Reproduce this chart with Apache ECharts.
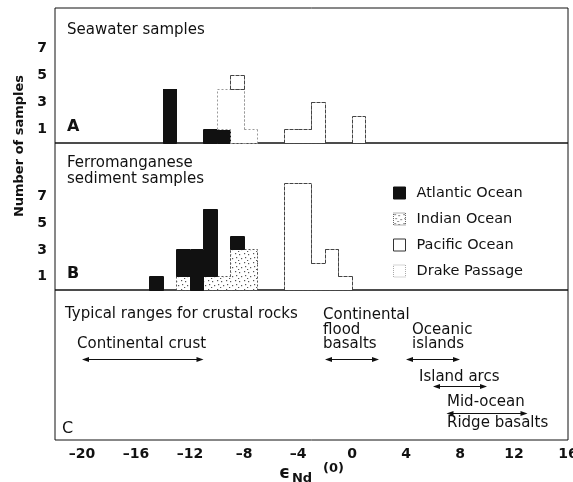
<!DOCTYPE html>
<html>
<head>
<meta charset="utf-8">
<script src="https://cdn.jsdelivr.net/npm/echarts@6/dist/echarts.min.js"></script>
<style>
  html, body { margin: 0; padding: 0; background: #fff; }
  #chart { width: 573px; height: 482px; }
</style>
</head>
<body>
<div id="chart"></div>
<script>
// ---- Data: εNd(0) histograms, each entry = [lower edge of 1-unit bin, number of samples] ----
const seawaterAtlantic = [[-14, 4], [-11, 1], [-10, 1]];
const seawaterIndian   = [];
const seawaterPacific  = [[-9, 1], [-5, 1], [-4, 1], [-3, 3], [0, 2]];
const seawaterDrake    = [[-10, 3], [-9, 4], [-8, 1]];

const sedimentAtlantic = [[-15, 1], [-13, 2], [-12, 3], [-11, 5], [-9, 1]];
const sedimentIndian   = [[-13, 1], [-11, 1], [-10, 1], [-9, 3], [-8, 3]];
const sedimentPacific  = [[-5, 8], [-4, 8], [-3, 2], [-2, 3], [-1, 1]];
const sedimentDrake    = [];

const oceanNames = ['Atlantic Ocean', 'Indian Ocean', 'Pacific Ocean', 'Drake Passage'];
const xTickValues = [-20, -16, -12, -8, -4, 0, 4, 8, 12, 16];
const yTickValues = [1, 3, 5, 7];

// Typical εNd(0) ranges for crustal rocks
const rockNames = ['Continental crust', 'Continental flood basalts', 'Oceanic islands', 'Island arcs', 'Mid-ocean ridge basalts'];
const rockFrom  = [-20, -2, 4, 6, 7];
const rockTo    = [-11, 2, 8, 10, 13];

// ---- Layout / style ----
const FONT = 'DejaVu Sans';
const INK = '#111';
const X_MIN = -22, X_MAX = 16;
const rockRowY = [69, 69, 69, 96, 123];   // arrow rows, px below top of panel C
const stackOrder = ['Indian Ocean', 'Atlantic Ocean', 'Drake Passage', 'Pacific Ocean'];

// stippled fill for the Indian Ocean bars
const stipple = document.createElement('canvas');
stipple.width = 9; stipple.height = 9;
(function () {
  const ctx = stipple.getContext('2d');
  ctx.fillStyle = '#fff'; ctx.fillRect(0, 0, 9, 9);
  ctx.fillStyle = '#555';
  [[1, 1], [5, 2], [2, 5], [7, 6], [4, 8]].forEach(p => ctx.fillRect(p[0], p[1], 1.2, 1.2));
})();
const stipplePattern = { image: stipple, repeat: 'repeat' };

const oceanStyle = {
  'Atlantic Ocean': { fill: INK, stroke: INK, lineDash: null },
  'Indian Ocean':   { fill: stipplePattern, stroke: '#555', lineDash: [2, 2] },
  'Pacific Ocean':  { fill: '#fff', stroke: '#444', lineDash: [4, 1] },
  'Drake Passage':  { fill: '#fff', stroke: '#9a9a9a', lineDash: [2, 2] }
};
const legendItemStyle = {
  'Atlantic Ocean': { color: INK, borderColor: INK, borderWidth: 1 },
  'Indian Ocean':   { color: stipplePattern, borderColor: '#666', borderWidth: 1, borderType: 'dotted' },
  'Pacific Ocean':  { color: '#fff', borderColor: '#333', borderWidth: 1 },
  'Drake Passage':  { color: '#fff', borderColor: '#aaa', borderWidth: 1, borderType: 'dotted' }
};

const panels = [
  { axis: 0, counts: { 'Atlantic Ocean': seawaterAtlantic, 'Indian Ocean': seawaterIndian,
                       'Pacific Ocean': seawaterPacific, 'Drake Passage': seawaterDrake } },
  { axis: 1, counts: { 'Atlantic Ocean': sedimentAtlantic, 'Indian Ocean': sedimentIndian,
                       'Pacific Ocean': sedimentPacific, 'Drake Passage': sedimentDrake } }
];

const crisp = v => Math.round(v - 0.5) + 0.5;

// parts of the vertical extent covered by exactly one of two intervals
function symDiff(a, b) {
  if (!b) return [a];
  const pts = [...new Set([a[0], a[1], b[0], b[1]])].sort((p, q) => p - q);
  const out = [];
  for (let i = 0; i < pts.length - 1; i++) {
    const m = (pts[i] + pts[i + 1]) / 2;
    const inA = m > a[0] && m < a[1], inB = m > b[0] && m < b[1];
    if (inA !== inB) out.push([pts[i], pts[i + 1]]);
  }
  return out;
}

// one stacked histogram series: fills every bin and outlines only the silhouette
function histogramRenderer(items, st) {
  const byBin = {};
  items.forEach(it => { byBin[it[0]] = it; });
  return function (params, api) {
    const b = api.value(0), lo = api.value(2), hi = api.value(3);
    const p0 = api.coord([b, lo]), p1 = api.coord([b + 1, hi]);
    const x0 = Math.round(p0[0]), x1 = Math.round(p1[0]);
    const yb = Math.round(p0[1]), yt = Math.round(p1[1]);
    const children = [{
      type: 'rect',
      shape: { x: x0, y: yt, width: x1 - x0, height: yb - yt },
      style: { fill: st.fill }
    }];
    const segs = [[[b, hi], [b + 1, hi]], [[b, lo], [b + 1, lo]]];
    [[b, byBin[b - 1]], [b + 1, byBin[b + 1]]].forEach(([x, nb]) => {
      symDiff([lo, hi], nb ? [nb[2], nb[3]] : null)
        .forEach(([s, e]) => segs.push([[x, s], [x, e]]));
    });
    segs.forEach(sg => {
      const a = api.coord(sg[0]), c = api.coord(sg[1]);
      children.push({
        type: 'line',
        shape: { x1: crisp(a[0]), y1: crisp(a[1]), x2: crisp(c[0]), y2: crisp(c[1]) },
        style: { stroke: st.stroke, lineWidth: 1, lineDash: st.lineDash }
      });
    });
    return { type: 'group', children };
  };
}

const series = [];
panels.forEach(panel => {
  const base = {};
  stackOrder.forEach(name => {
    const items = panel.counts[name].map(([bin, n]) => {
      const lo = base[bin] || 0;
      base[bin] = lo + n;
      return [bin, bin + 1, lo, lo + n];
    });
    series.push({
      type: 'custom',
      name,
      xAxisIndex: panel.axis,
      yAxisIndex: panel.axis,
      data: items,
      encode: { x: [0, 1], y: [2, 3] },
      itemStyle: legendItemStyle[name],
      silent: true,
      renderItem: histogramRenderer(items, oceanStyle[name])
    });
  });
});

// double-headed range arrows in panel C
series.push({
  type: 'custom',
  name: 'ranges',
  xAxisIndex: 2,
  yAxisIndex: 2,
  silent: true,
  data: rockNames.map((n, i) => [rockFrom[i], rockTo[i], rockRowY[i]]),
  encode: { x: [0, 1], y: 2 },
  renderItem: function (params, api) {
    const y = api.value(2);
    const a = api.coord([api.value(0), y]), b = api.coord([api.value(1), y]);
    const yy = crisp(a[1]);
    const L = 7, W = 2.5;
    return {
      type: 'group',
      children: [
        { type: 'line', shape: { x1: a[0] + 3, y1: yy, x2: b[0] - 3, y2: yy }, style: { stroke: INK, lineWidth: 1 } },
        { type: 'polygon', shape: { points: [[a[0], yy], [a[0] + L, yy - W], [a[0] + L, yy + W]] }, style: { fill: INK } },
        { type: 'polygon', shape: { points: [[b[0], yy], [b[0] - L, yy - W], [b[0] - L, yy + W]] }, style: { fill: INK } }
      ]
    };
  }
});

const fmtX = v => (v < 0 ? '\u2013' + (-v) : String(v));

const gridBase = {
  left: 55, width: 513, show: true, borderColor: INK, borderWidth: 1,
  backgroundColor: 'transparent', containLabel: false, outerBoundsMode: 'none'
};

function xAxisFor(i) {
  const withLabels = i === 2;
  const ax = {
    type: 'value', gridIndex: i, min: X_MIN, max: X_MAX,
    axisLine: { show: false }, axisTick: { show: false }, splitLine: { show: false },
    axisLabel: withLabels ? {
      show: true, customValues: xTickValues, formatter: fmtX, margin: 7,
      fontFamily: FONT, fontWeight: 'bold', fontSize: 14, color: INK
    } : { show: false }
  };
  if (withLabels) {
    ax.name = '{e|\u03F5}{s|Nd}{p|(0)}';
    ax.nameLocation = 'middle';
    ax.nameGap = 18;
    ax.nameTextStyle = {
      fontFamily: FONT, color: INK,
      rich: {
        e: { fontFamily: FONT, fontSize: 17, fontWeight: 'bold', color: INK },
        s: { fontFamily: FONT, fontSize: 13, fontWeight: 'bold', color: INK, padding: [11, 0, 0, 2] },
        p: { fontFamily: FONT, fontSize: 13, fontWeight: 'bold', color: INK, padding: [0, 0, 10, 11] }
      }
    };
  }
  return ax;
}

function yAxisFor(i, max) {
  return {
    type: 'value', gridIndex: i, min: 0, max,
    axisLine: { show: false }, axisTick: { show: false }, splitLine: { show: false },
    axisLabel: {
      show: true, customValues: yTickValues, margin: 8,
      fontFamily: FONT, fontWeight: 'bold', fontSize: 14, color: INK
    }
  };
}

function label(x, y, text, opt) {
  opt = opt || {};
  return {
    type: 'text', x, y, silent: true,
    style: {
      text, fill: INK, fontFamily: FONT,
      fontSize: opt.size || 15, fontWeight: opt.weight || 'normal',
      align: 'left', verticalAlign: 'middle'
    }
  };
}

const option = {
  animation: false,
  backgroundColor: '#fff',
  grid: [
    Object.assign({ top: 8, height: 135 }, gridBase),
    Object.assign({ top: 143, height: 147 }, gridBase),
    Object.assign({ top: 290, height: 150 }, gridBase)
  ],
  xAxis: [xAxisFor(0), xAxisFor(1), xAxisFor(2)],
  yAxis: [
    yAxisFor(0, 10),
    yAxisFor(1, 11),
    { type: 'value', gridIndex: 2, min: 0, max: 150, inverse: true, show: false }
  ],
  legend: {
    orient: 'vertical', left: 388, top: 180,
    icon: 'rect', itemWidth: 12, itemHeight: 12, itemGap: 10,
    selectedMode: false,
    textStyle: { fontFamily: FONT, fontSize: 14.5, color: INK, lineHeight: 16, padding: [0, 0, 0, 6] },
    data: oceanNames.map(name => ({ name, itemStyle: legendItemStyle[name] }))
  },
  graphic: [
    {
      type: 'text', x: 20, y: 146, rotation: Math.PI / 2, silent: true,
      style: { text: 'Number of samples', fill: INK, fontFamily: FONT, fontSize: 13, fontWeight: 'bold',
               align: 'center', verticalAlign: 'middle' }
    },
    label(67, 30, 'Seawater samples'),
    label(67, 127, 'A', { size: 16, weight: 'bold' }),
    label(67, 163, 'Ferromanganese'),
    label(67, 179, 'sediment samples'),
    label(67, 274, 'B', { size: 16, weight: 'bold' }),
    label(62, 429, 'C', { size: 16 }),
    label(65, 314, 'Typical ranges for crustal rocks'),
    label(77, 344, 'Continental crust'),
    label(323, 315, 'Continental'),
    label(323, 330, 'flood'),
    label(323, 344, 'basalts'),
    label(412, 330, 'Oceanic'),
    label(412, 344, 'islands'),
    label(419, 377, 'Island arcs'),
    label(447, 402, 'Mid-ocean'),
    label(447, 423, 'Ridge basalts')
  ],
  series
};

const chart = echarts.init(document.getElementById('chart'), null, { renderer: 'canvas' });
chart.setOption(option);
</script>
</body>
</html>
